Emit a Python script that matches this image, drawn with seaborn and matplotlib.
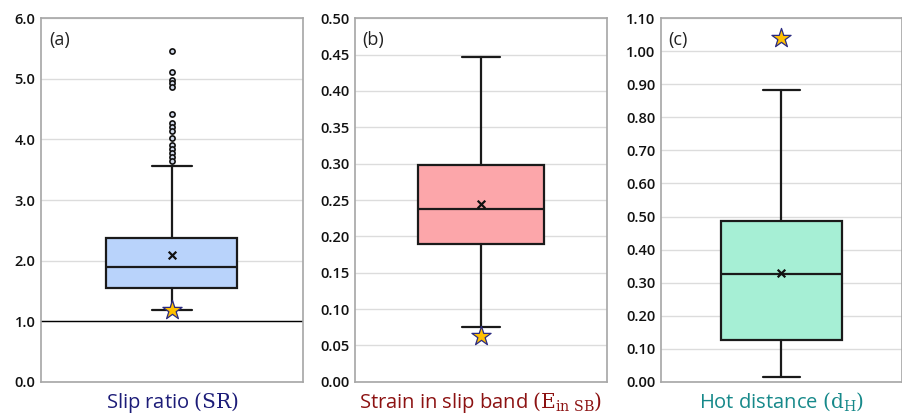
import matplotlib
matplotlib.use("Agg")
import matplotlib.pyplot as plt
import seaborn as sns
import numpy as np

# ---- data ----
panel_tags = ["(a)", "(b)", "(c)"]
xlabels = ["Slip ratio $\\mathrm{(SR)}$",
           "Strain in slip band $\\mathrm{(E_{in\\ SB})}$",
           "Hot distance $\\mathrm{(d_{H})}$"]
label_colors = ["#1c1c78", "#8c1212", "#16898a"]
box_colors = ["#b9d3fb", "#fca6aa", "#a6efd5"]

q1 = [1.547, 0.189, 0.126]
median = [1.888, 0.2376, 0.3256]
q3 = [2.367, 0.2978, 0.4873]
mean = [2.10, 0.244, 0.3286]
whis_lo = [1.19, 0.0758, 0.0152]
whis_hi = [3.555, 0.4467, 0.8826]
star_vals = [1.18, 0.0634, 1.039]

outliers_a = [5.465, 5.118, 4.98, 4.926, 4.86, 4.414, 4.276, 4.21, 4.144,
              4.03, 3.90, 3.836, 3.77, 3.704, 3.643]
outliers = [outliers_a, [], []]

ylims = [(0.0, 6.0), (0.0, 0.50), (0.0, 1.10)]
yticks = [np.arange(0, 6.01, 1.0), np.arange(0, 0.501, 0.05), np.arange(0, 1.101, 0.10)]
yfmt = ["{:.1f}", "{:.2f}", "{:.2f}"]
ref_line = [1.0, None, None]

# ---- style ----
sns.set_theme(style="white")
plt.rcParams['font.family'] = ['Open Sans', 'DejaVu Sans']
plt.rcParams['mathtext.fontset'] = 'dejavuserif'

fig = plt.figure(figsize=(9.03, 4.19), dpi=100)
W, H = 903, 419
lefts = [41, 355, 661]
rights = [303, 607, 902]
top_px, bot_px = 18.3, 381.7

for i in range(3):
    l, r = lefts[i] / W, rights[i] / W
    b, t = 1 - bot_px / H, 1 - top_px / H
    ax = fig.add_axes([l, b, r - l, t - b])

    stats = [dict(med=median[i], q1=q1[i], q3=q3[i],
                  whislo=whis_lo[i], whishi=whis_hi[i], fliers=[])]
    ax.bxp(stats, positions=[0], widths=0.5, patch_artist=True,
           showfliers=False,
           boxprops=dict(facecolor=box_colors[i], edgecolor="#1a1a1a", linewidth=1.6),
           medianprops=dict(color="#1a1a1a", linewidth=1.6),
           whiskerprops=dict(color="#1a1a1a", linewidth=1.6),
           capprops=dict(color="#1a1a1a", linewidth=1.6),
           capwidths=0.15, zorder=3)

    if outliers[i]:
        sns.scatterplot(x=[0] * len(outliers[i]), y=outliers[i], ax=ax,
                        marker="o", s=14, facecolor="#d0d8e8", edgecolor="#111111",
                        linewidth=1.2, zorder=4, legend=False)
    sns.scatterplot(x=[0], y=[mean[i]], ax=ax, marker="x", s=30,
                    color="#111111", linewidth=1.6, zorder=5, legend=False)
    sns.scatterplot(x=[0], y=[star_vals[i]], ax=ax, marker="*", s=210,
                    facecolor="#ffc000", edgecolor="#2a2a80", linewidth=0.9,
                    zorder=6, legend=False)

    if ref_line[i] is not None:
        ax.axhline(ref_line[i], color="black", linewidth=1.0, zorder=2)

    ax.set_xlim(-0.5, 0.5)
    ax.set_ylim(*ylims[i])
    ax.set_yticks(yticks[i])
    ax.set_yticklabels([yfmt[i].format(v) for v in yticks[i]],
                       fontsize=10.5, color="#111111", fontweight="semibold")
    ax.set_xticks([])
    ax.tick_params(axis="y", length=0, pad=4)
    ax.yaxis.grid(True, color="#dcdcdc", linewidth=1.0)
    ax.set_axisbelow(True)
    for sp in ax.spines.values():
        sp.set_color("#a6a6a6")
        sp.set_linewidth(1.2)
    ax.set_xlabel(xlabels[i], fontsize=14.5, color=label_colors[i], labelpad=6)
    ax.text(0.03, 0.965, panel_tags[i], transform=ax.transAxes,
            fontsize=13, color="#222222", va="top", ha="left")

fig.savefig("out.png", dpi=100)
